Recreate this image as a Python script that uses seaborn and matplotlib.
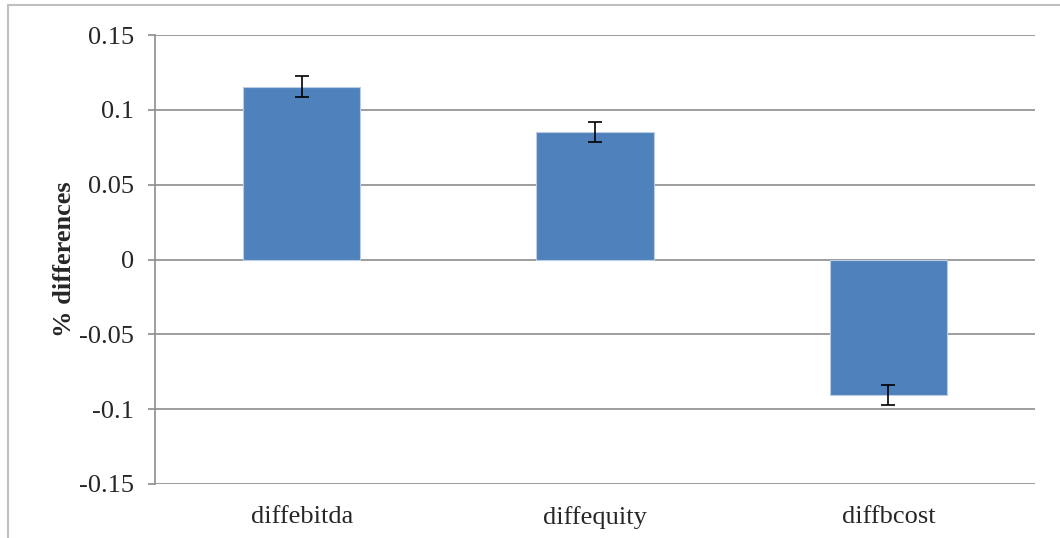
import seaborn as sns
import matplotlib.pyplot as plt
import matplotlib.lines as mlines
import pandas as pd
import numpy as np

# data
categories = ["diffebitda", "diffequity", "diffbcost"]
values = [0.1155, 0.0850, -0.0905]
errors = [0.0072, 0.0068, 0.0065]

sns.set_style("white")
plt.rcParams['font.family'] = ['Liberation Serif', 'DejaVu Serif']

df = pd.DataFrame({"var": categories, "diff": values})

fig = plt.figure(figsize=(10.6, 5.38), dpi=100)
ax = fig.add_axes([155 / 1060, 1 - 484 / 538, 880 / 1060, 449 / 538])

sns.barplot(data=df, x="var", y="diff", color="#4F81BD", saturation=1,
            width=0.4, errorbar=None, ax=ax, zorder=2)
for p in ax.patches:
    p.set_edgecolor("#B9CDE5")
    p.set_linewidth(0.8)

xpos = np.arange(len(categories))
ax.errorbar(xpos, values, yerr=errors, fmt="none", ecolor="black",
            elinewidth=1.2, capsize=5, capthick=1.2, zorder=3)

ax.set_xlim(-0.5, len(categories) - 0.5)
ax.set_ylim(-0.15, 0.15)
ticks = [-0.15, -0.1, -0.05, 0, 0.05, 0.1, 0.15]
ax.set_yticks(ticks)
ax.set_yticklabels(["-0.15", "-0.1", "-0.05", "0", "0.05", "0.1", "0.15"])
ax.yaxis.grid(True, color="#8c8c8c", linewidth=1.2, zorder=0)
ax.set_axisbelow(True)

for s in ["top", "right", "bottom"]:
    ax.spines[s].set_visible(False)
ax.spines["left"].set_color("#8c8c8c")
ax.spines["left"].set_linewidth(1.2)
ax.tick_params(axis="y", left=True, length=5, width=1.2, color="#8c8c8c",
               labelsize=19, pad=10)
ax.tick_params(axis="x", bottom=False, labelsize=19, pad=12)

ax.set_xlabel("")
ax.set_ylabel("% differences", fontsize=19, fontweight="bold", labelpad=2)

# outer chart frame (top and left edges visible)
fig.add_artist(mlines.Line2D([8 / 1060, 1], [1 - 5 / 538, 1 - 5 / 538],
                             transform=fig.transFigure, color="#bfbfbf", lw=1.5))
fig.add_artist(mlines.Line2D([8 / 1060, 8 / 1060], [0, 1 - 5 / 538],
                             transform=fig.transFigure, color="#bfbfbf", lw=1.5))

fig.savefig("out.png", dpi=100)
